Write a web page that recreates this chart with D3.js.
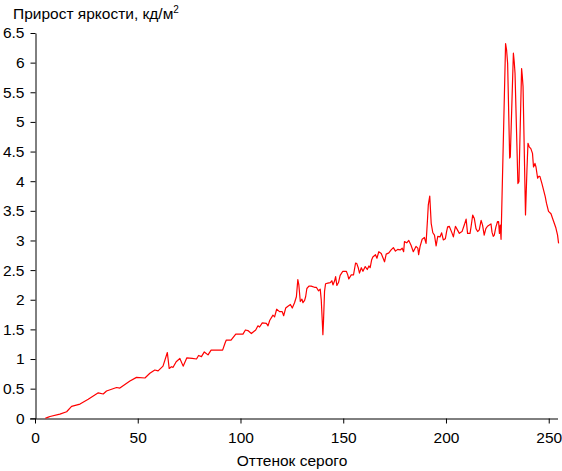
<!DOCTYPE html>
<html>
<head>
<meta charset="utf-8">
<script src="https://cdn.jsdelivr.net/npm/d3@7"></script>
<style>
  body { margin: 0; background: #fff; }
  svg { display: block; }
  text { font-family: "Liberation Sans", Arial, sans-serif; fill: #000; }
</style>
</head>
<body>
<svg id="chart" width="562" height="471"></svg>
<script>
const titleText = "Прирост яркости, кд/м";
const xLabel = "Оттенок серого";
const xTicks = [0, 50, 100, 150, 200, 250];
const yTicks = [0, 0.5, 1, 1.5, 2, 2.5, 3, 3.5, 4, 4.5, 5, 5.5, 6, 6.5];

const gray = [5,6.5,7.3,12.1,15.4,17.8,21.9,25.9,30.8,33.2,34.8,39.7,41.3,46.2,49.4,53.5,55.9,58.3,59.9,62.3,64.4,65.3,66.4,67.2,68.7,70.5,72.1,73.9,76.5,78.6,79.6,81,82.4,84.2,85.7,91.3,92.5,93.1,95.4,97.7,101.2,102.4,103.6,105.3,107.4,108.5,109.3,110.6,112.6,113.4,114.2,115.8,116.6,117.6,119,120.3,121,122,123.1,124.3,125.2,126.3,127.2,127.9,128.4,129.1,129.9,130.4,131.2,131.7,132.3,133.3,134.4,136,136.9,138,138.8,139.3,139.8,140.1,140.4,140.9,141.4,142.5,143.7,144.5,145,145.8,146.3,146.9,147.7,148.5,149.8,151.5,152.2,152.7,153.9,155,156,156.6,157.3,157.9,158.8,159.6,160.7,161.7,162.5,163.1,163.8,164.4,165.7,166.4,167.3,168.5,170.1,170.9,172.2,173.3,174.4,175.4,176.5,177.7,178.7,179.4,179.8,180.9,181.9,183,184.1,185.4,186.3,186.7,187.4,188.4,189.5,190.3,191,191.4,192.1,192.8,193.6,194.4,195.2,196,197.1,197.9,198.7,199.7,200.3,200.8,201.6,203,203.6,204.6,205.7,206.5,207.8,208.9,209.8,210.5,211.7,212.2,213,213.8,214.6,215.4,216.2,217.1,217.8,218.6,219.4,220.2,221.1,221.9,222.4,223,223.5,224.3,225.1,225.6,226,226.4,226.8,229,229.5,230,231,231.3,232.8,233.2,233.6,235,235.5,236.8,237.1,237.5,238.7,239.4,239.9,240.5,241.3,242.1,242.6,243.3,243.8,244.6,245.1,245.7,246.7,247.5,248.3,248.9,249.9,251.1,251.8,252.7,253.5,254.3,254.8];
const gain = [0,0.02,0.03,0.07,0.11,0.20,0.24,0.32,0.43,0.41,0.46,0.52,0.51,0.63,0.69,0.68,0.76,0.815,0.80,0.88,1.11,0.84,0.87,0.86,0.955,1.01,0.88,1.02,1.01,1.0,1.06,1.04,1.12,1.07,1.15,1.15,1.27,1.32,1.32,1.42,1.42,1.49,1.48,1.43,1.49,1.56,1.54,1.61,1.60,1.56,1.65,1.74,1.71,1.84,1.80,1.80,1.73,1.86,1.89,1.92,1.86,1.95,2.05,2.34,2.25,1.97,2.01,1.95,1.99,2.05,2.19,2.23,2.23,2.21,2.21,2.15,2.18,2.0,1.64,1.41,1.64,2.14,2.27,2.28,2.29,2.32,2.25,2.32,2.39,2.24,2.29,2.41,2.48,2.48,2.42,2.35,2.42,2.42,2.62,2.61,2.54,2.45,2.54,2.48,2.56,2.51,2.57,2.54,2.67,2.72,2.76,2.70,2.81,2.78,2.64,2.77,2.79,2.84,2.88,2.82,2.85,2.84,2.87,2.81,2.98,2.96,3.0,2.92,2.81,2.9,2.87,2.76,2.9,3.02,3.05,2.95,3.35,3.6,3.75,3.29,3.13,3.09,2.91,3.07,3.06,3.13,3.01,3.03,3.15,3.23,3.24,3.12,3.06,3.24,3.17,3.12,3.15,3.26,3.36,3.12,3.12,3.23,3.43,3.37,3.20,3.15,3.18,3.34,3.26,3.09,3.20,3.24,3.26,3.28,3.14,3.07,3.09,3.23,3.32,3.32,3.12,3.26,3.02,6.32,6.21,5.99,4.39,4.41,6.16,6.02,5.82,3.96,3.99,5.90,5.79,5.60,3.43,4.19,4.64,4.58,4.55,4.47,4.24,4.30,4.24,4.05,4.08,4.08,3.96,3.85,3.74,3.63,3.49,3.45,3.38,3.29,3.21,3.09,2.95];

const svg = d3.select("#chart");
const x = d3.scaleLinear().domain([0, 255]).range([35, 559]);
const y = d3.scaleLinear().domain([0, 6.5]).range([418.3, 33]);

// axes
const xAxis = d3.axisBottom(x).tickValues(xTicks).tickSize(5).tickSizeOuter(0).tickPadding(8);
const gx = svg.append("g").attr("transform", "translate(0,418.5)").call(xAxis);
gx.selectAll("text").style("font-size", "15.5px").style("font-family", "'Liberation Sans', Arial, sans-serif");
gx.select(".domain").attr("stroke", "#000").attr("d", `M30,0.5H558`);

const yAxis = d3.axisLeft(y).tickValues(yTicks).tickSize(5).tickSizeOuter(0).tickPadding(6)
  .tickFormat(d => String(d));
const gy = svg.append("g").attr("transform", "translate(35.5,0)").call(yAxis);
gy.selectAll("text").style("font-size", "15.5px").style("font-family", "'Liberation Sans', Arial, sans-serif");

// line
const line = d3.line().x((d, i) => x(gray[i])).y(d => y(d));
svg.append("path")
  .datum(gain)
  .attr("fill", "none")
  .attr("stroke", "#ff0000")
  .attr("stroke-width", 1.2)
  .attr("stroke-linejoin", "round")
  .attr("d", line);

// title
const t = svg.append("text").attr("x", 13).attr("y", 19).style("font-size", "15.5px").text(titleText);
t.append("tspan").attr("dy", -6).style("font-size", "10px").text("2");

// x label
svg.append("text").attr("x", 292).attr("y", 466).attr("text-anchor", "middle")
  .style("font-size", "15.5px").text(xLabel);
</script>
</body>
</html>
